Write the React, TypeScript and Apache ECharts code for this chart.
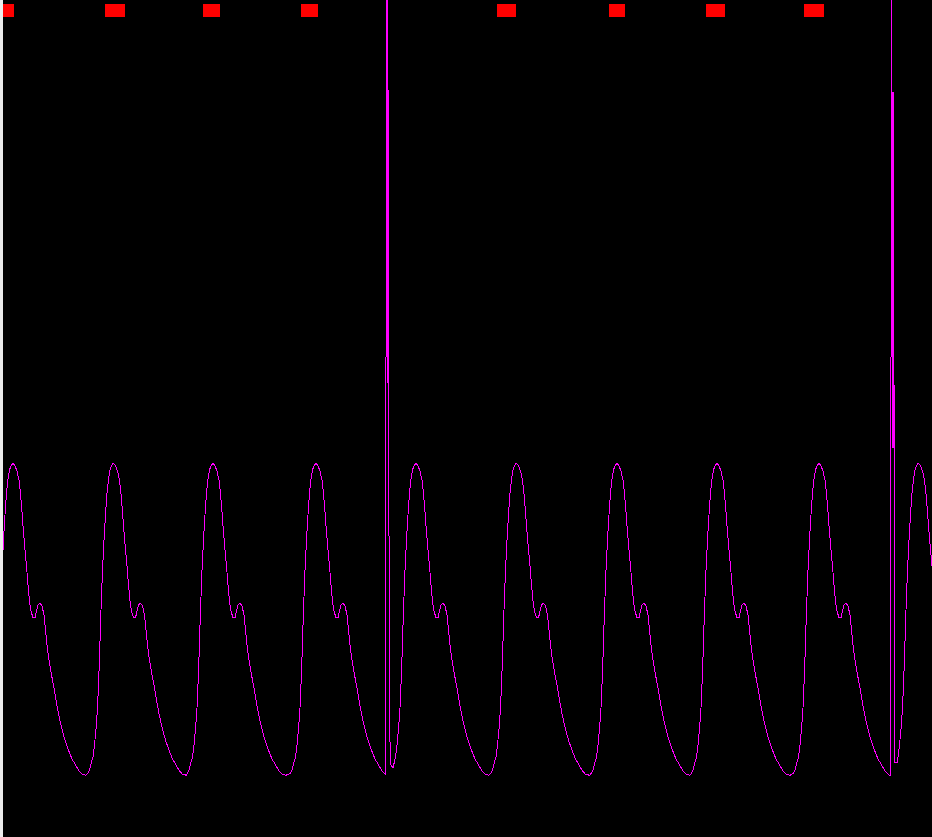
import React, { useEffect, useRef } from "react";
import * as echarts from "echarts";

// Peak times of each pulse (s)
const beatPeakTimes = [0.1, 1.105, 2.1, 3.13, 4.13, 5.135, 6.14, 7.14, 8.16, 9.155];

// One arterial pulse: offset from the systolic peak (s) and pressure (mmHg)
const beatShapeOffsets = [
  -0.255, -0.24, -0.225, -0.205, -0.19, -0.175, -0.16, -0.148, -0.137, -0.125, -0.11, -0.095,
  -0.08, -0.065, -0.05, -0.035, -0.015, 0, 0.02, 0.04, 0.06, 0.075, 0.09, 0.105, 0.12, 0.135,
  0.15, 0.165, 0.18, 0.2, 0.22, 0.235, 0.25, 0.27, 0.29, 0.31, 0.325, 0.34, 0.36, 0.385, 0.41,
  0.435, 0.46, 0.49, 0.52, 0.555, 0.59, 0.625, 0.66, 0.69, 0.73,
];
const beatShapePressure = [
  62.2, 62.8, 64.0, 65.3, 67.6, 70.6, 74.7, 80.0, 86.1, 93.4, 101.0, 106.8,
  111.6, 115.8, 118.4, 120.2, 121.1, 121.5, 120.9, 120.0, 118.2, 115.6, 112.1, 108.3, 104.9, 101.8,
  98.2, 95.1, 93.2, 91.9, 91.9, 93.2, 94.4, 94.7, 94.2, 92.4, 89.6, 86.7, 83.8, 81.0, 78.5,
  75.6, 73.1, 70.6, 68.5, 66.6, 64.9, 63.8, 62.6, 62.0, 61.8,
];

// Flush / sampling artifacts (spikes running off the top of the scale)
const artifact1Times = [3.825, 3.835, 3.844, 3.846, 3.853, 3.855, 3.857, 3.862, 3.867, 3.88, 3.9, 3.925];
const artifact1Pressure = [61.9, 215.7, 215.7, 136.8, 136.8, 192.8, 125.1, 125.1, 69.5, 63.8, 63.2, 65.3];
const artifact2Times = [8.875, 8.885, 8.886, 8.894, 8.895, 8.904, 8.905, 8.906, 8.914, 8.915, 8.945];
const artifact2Pressure = [61.7, 215.7, 192.4, 192.4, 124.5, 124.5, 192.4, 136.4, 136.4, 64.3, 64.3];

// Beat-detection markers along the top (start / end, s)
const markerStarts = [0.0, 1.02, 2.0, 2.98, 4.94, 6.06, 7.03, 8.01];
const markerEnds = [0.107, 1.22, 2.17, 3.15, 5.13, 6.22, 7.22, 8.21];

const X_MAX = 9.29;
const Y_MIN = 50;
const Y_MAX = 210;

function buildTrace(): number[][] {
  const artifacts: [number[], number[]][] = [
    [artifact1Times, artifact1Pressure],
    [artifact2Times, artifact2Pressure],
  ];
  const pts: number[][] = [];
  beatPeakTimes.forEach((pk) => {
    beatShapeOffsets.forEach((o, i) => {
      const t = Math.round((pk + o) * 1000) / 1000;
      const inArtifact = artifacts.some(
        ([ts]) => t >= ts[0] - 1e-9 && t <= ts[ts.length - 1] + 1e-9
      );
      if (!inArtifact) pts.push([t, beatShapePressure[i]]);
    });
  });
  artifacts.forEach(([ts, ps]) => ts.forEach((t, i) => pts.push([t, ps[i]])));
  pts.sort((a, b) => a[0] - b[0]);
  return pts;
}

export default function App() {
  const ref = useRef<HTMLDivElement>(null);

  useEffect(() => {
    document.body.style.margin = "0";
    document.body.style.background = "#ececec";
    if (!ref.current) return;
    const chart = echarts.init(ref.current, undefined, { renderer: "svg" });
    const markers = markerStarts.map((s, i) => [s, markerEnds[i]]);
    chart.setOption({
      animation: false,
      backgroundColor: "#000000",
      grid: { left: 0, right: 0, top: 0, bottom: 0, containLabel: false },
      xAxis: { type: "value", min: 0, max: X_MAX, show: false },
      yAxis: { type: "value", min: Y_MIN, max: Y_MAX, show: false },
      series: [
        {
          type: "line",
          data: buildTrace(),
          showSymbol: false,
          symbol: "none",
          clip: true,
          smooth: false,
          lineStyle: { color: "#ff00ff", width: 1 },
          silent: true,
        },
        {
          type: "custom",
          data: markers,
          silent: true,
          renderItem: (params: any, api: any) => {
            const x0 = api.coord([api.value(0), Y_MAX])[0];
            const x1 = api.coord([api.value(1), Y_MAX])[0];
            const top = params.coordSys.y;
            return {
              type: "rect",
              shape: { x: x0, y: top + 4, width: x1 - x0, height: 12.7 },
              style: { fill: "#ff0000" },
            };
          },
        },
      ],
    });
    return () => chart.dispose();
  }, []);

  return (
    <>
      <style>{"#pulse-chart svg path{shape-rendering:crispEdges}"}</style>
      <div
        id="pulse-chart"
        ref={ref}
        style={{ position: "fixed", left: 3, top: 0, width: 929, height: 837, background: "#000" }}
      />
    </>
  );
}
